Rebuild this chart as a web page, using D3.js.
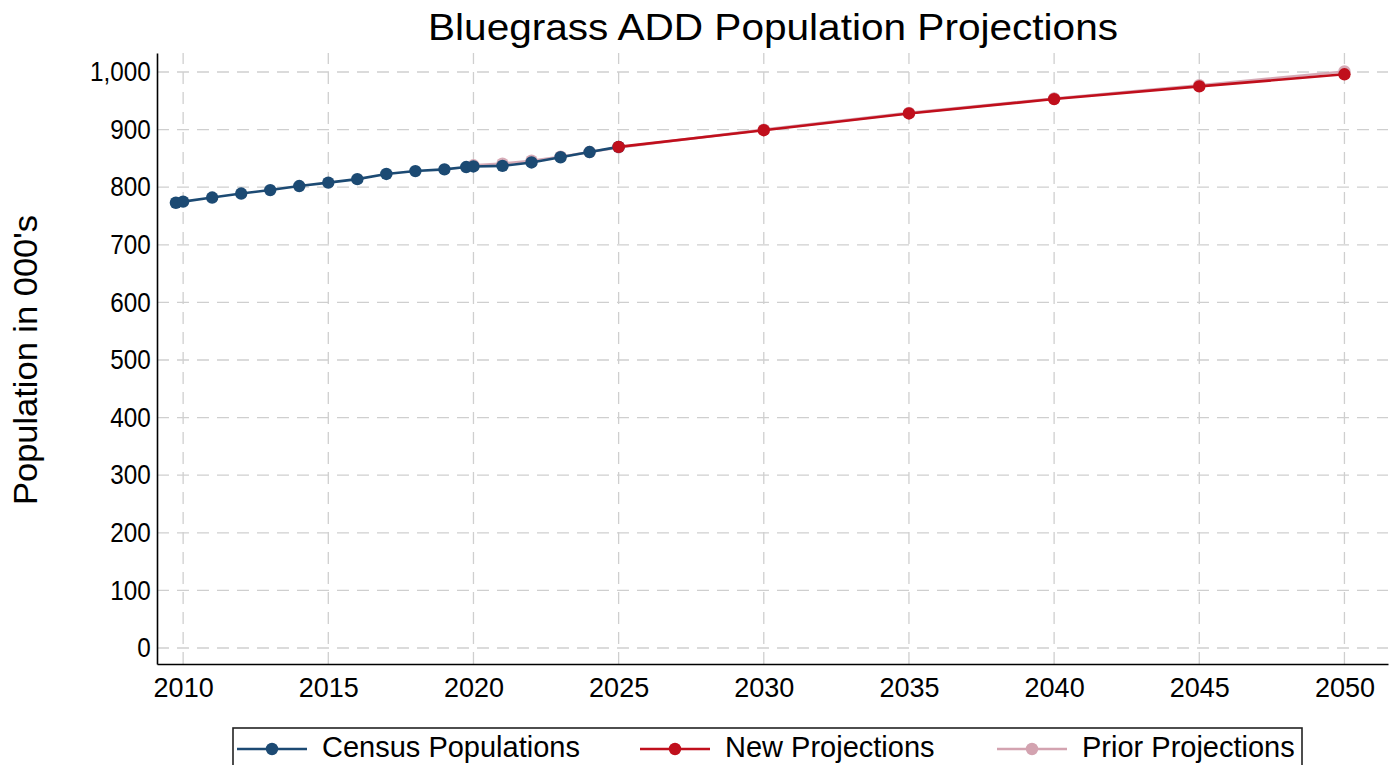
<!DOCTYPE html>
<html>
<head>
<meta charset="utf-8">
<script src="https://cdn.jsdelivr.net/npm/d3@7"></script>
<style>
html,body{margin:0;padding:0;background:#fff;}
svg{display:block;font-family:"Liberation Sans",Arial,sans-serif;}
</style>
</head>
<body>
<svg id="chart" width="1400" height="765"></svg>
<script>
const title = "Bluegrass ADD Population Projections";
const yTitle = "Population in 000's";
const xTicks = [2010, 2015, 2020, 2025, 2030, 2035, 2040, 2045, 2050];
const yTicks = [0, 100, 200, 300, 400, 500, 600, 700, 800, 900, 1000];

const censusYears = [2009.75, 2010, 2011, 2012, 2013, 2014, 2015, 2016, 2017, 2018, 2019, 2019.75, 2020, 2021, 2022, 2023, 2024, 2025];
const censusValues = [773, 775, 782, 789, 795, 802, 808, 814, 823, 828, 831, 835, 836, 837, 843, 852, 861, 870];

const newYears = [2025, 2030, 2035, 2040, 2045, 2050];
const newValues = [870, 899, 928, 953, 975, 996];

const priorYears = [2020, 2021, 2022, 2023, 2024, 2025, 2030, 2035, 2040, 2045, 2050];
const priorValues = [838, 841, 846, 853, 861, 869, 900, 929, 954, 977, 1001];

const seriesNames = ["Census Populations", "New Projections", "Prior Projections"];
const colors = {census: "#1c4a73", newp: "#c00f1c", prior: "#d3a3b0"};

const svg = d3.select("#chart");
const L = 157, R = 1388, T = 53, B = 664;
const x = d3.scaleLinear().domain([2009.1, 2051.5]).range([L, R]);
const y = d3.scaleLinear().domain([-27.8, 1033]).range([B, T]);

// grid
const grid = svg.append("g").attr("stroke", "#cfcfcf").attr("stroke-width", 1.3).attr("stroke-dasharray", "12,8");
grid.selectAll("line.gx").data(xTicks).join("line").attr("class","gx")
  .attr("x1", d => x(d)).attr("x2", d => x(d)).attr("y1", B).attr("y2", T);
grid.selectAll("line.gy").data(yTicks).join("line").attr("class","gy")
  .attr("x1", L).attr("x2", R).attr("y1", d => y(d)).attr("y2", d => y(d));

// axes
const xAxis = svg.append("g").attr("transform", `translate(0,${B})`)
  .call(d3.axisBottom(x).tickValues(xTicks).tickFormat(d3.format("d")).tickSize(0).tickPadding(14));
const yAxis = svg.append("g").attr("transform", `translate(${L},0)`)
  .call(d3.axisLeft(y).tickValues(yTicks).tickFormat(d3.format(",")).tickSize(0).tickPadding(7));
[xAxis, yAxis].forEach(a => {
  a.select(".domain").attr("stroke", "#000").attr("stroke-width", 1.6);
  a.selectAll("text").attr("font-size", 27).attr("fill", "#000").attr("font-family", "Liberation Sans, Arial, sans-serif");
});
yAxis.selectAll(".tick text").attr("transform", "scale(0.9,1)");

const line = d3.line().x(d => x(d[0])).y(d => y(d[1]));
function drawSeries(years, values, color, opacity) {
  const data = years.map((yr, i) => [yr, values[i]]);
  const g = svg.append("g").attr("opacity", opacity);
  g.append("path").datum(data).attr("d", line).attr("fill", "none")
    .attr("stroke", color).attr("stroke-width", 2.6);
  g.selectAll("circle").data(data).join("circle")
    .attr("cx", d => x(d[0])).attr("cy", d => y(d[1])).attr("r", 6.2).attr("fill", color);
}
drawSeries(priorYears, priorValues, colors.prior, 0.9);
drawSeries(censusYears, censusValues, colors.census, 1);
drawSeries(newYears, newValues, colors.newp, 1);

// title
svg.append("text").attr("x", 773).attr("y", 40).attr("text-anchor", "middle")
  .attr("font-size", 37).attr("fill", "#000")
  .attr("textLength", 690).attr("lengthAdjust", "spacingAndGlyphs").text(title);
// y title
svg.append("text").attr("transform", `translate(37,360) rotate(-90)`)
  .attr("text-anchor", "middle").attr("font-size", 33).attr("fill", "#000")
  .attr("textLength", 290).attr("lengthAdjust", "spacingAndGlyphs").text(yTitle);

// legend
const lg = svg.append("g");
lg.append("rect").attr("x", 233).attr("y", 728).attr("width", 1069).attr("height", 60)
  .attr("fill", "#fff").attr("stroke", "#222").attr("stroke-width", 1.6);
const items = [
  {name: seriesNames[0], color: colors.census, lx: 237},
  {name: seriesNames[1], color: colors.newp, lx: 640},
  {name: seriesNames[2], color: colors.prior, lx: 997}
];
const ly = 749;
items.forEach(it => {
  lg.append("line").attr("x1", it.lx).attr("x2", it.lx + 70).attr("y1", ly).attr("y2", ly)
    .attr("stroke", it.color).attr("stroke-width", 2.6);
  lg.append("circle").attr("cx", it.lx + 35).attr("cy", ly).attr("r", 6.2).attr("fill", it.color);
  lg.append("text").attr("x", it.lx + 85).attr("y", 757).attr("font-size", 29).attr("fill", "#000").text(it.name);
});
</script>
</body>
</html>
